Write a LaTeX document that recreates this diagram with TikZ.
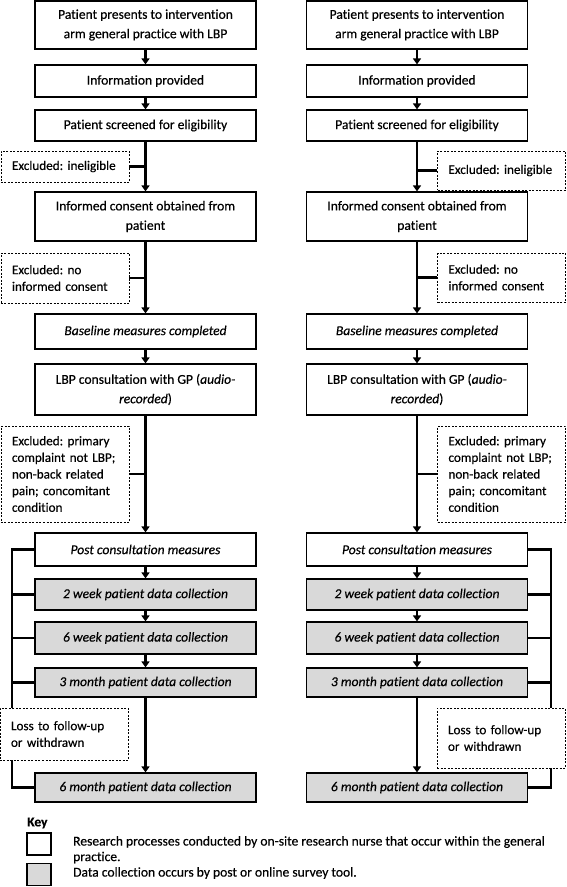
\documentclass[tikz,border=0pt]{standalone}
\usepackage{fontspec}
\setmainfont{Carlito}[Ligatures={NoCommon}, FakeBold=0.35]
\usetikzlibrary{arrows.meta}
\definecolor{keygrey}{HTML}{D9D9D9}
\newcommand{\exline}[1]{\mbox{#1}}
\begin{document}
\frenchspacing
\begin{tikzpicture}[x=1bp,y=-1bp,
  box/.style={draw, line width=1.2bp, fill=white, minimum width=221bp, align=center,
    font=\fontsize{13.6}{19.5}\selectfont, inner sep=0pt},
  greybox/.style={box, fill=keygrey},
  excbox/.style={draw, dash pattern=on 2bp off 1.5bp, line width=0.9bp, fill=white,
    text width=106bp, align=left, minimum width=128bp, inner xsep=11bp, inner ysep=0pt,
    font=\fontsize{13.2}{16.7}\selectfont},
  arr/.style={line width=2.4bp, -{Triangle[length=6bp,width=8bp]}},
  thickline/.style={line width=2.6bp},
  keysq/.style={draw, line width=1.2bp, minimum width=24bp, minimum height=22bp, inner sep=0pt},
  keytext/.style={anchor=west, inner sep=0pt, font=\fontsize{13.6}{15}\selectfont}
]
\useasboundingbox (0,0) rectangle (567,887);

% ---------------- Left column ----------------
\begin{scope}[name prefix=L-]
\node[box, minimum height=48bp] (b1) at (145.5,25) {Patient presents to intervention\\arm general practice with LBP};
\node[box, minimum height=32bp] (b2) at (145.5,81) {Information provided};
\node[box, minimum height=31bp] (b3) at (145.5,125.5) {Patient screened for eligibility};
\node[box, minimum height=49bp] (b4) at (145.5,216.5) {Informed consent obtained from\\patient};
\node[box, minimum height=35bp] (b5) at (145.5,331.5) {\itshape Baseline measures completed};
\node[box, minimum height=51bp] (b6) at (145.5,389.5) {LBP consultation with GP (\textit{audio-}\\\textit{recorded})};
\node[box, minimum height=33bp] (b7) at (145.5,549.5) {\itshape Post consultation measures};
\node[greybox, minimum height=31bp] (b8) at (145.5,594.5) {\itshape 2 week patient data collection};
\node[greybox, minimum height=32bp] (b9) at (145.5,638) {\itshape 6 week patient data collection};
\node[greybox, minimum height=29bp] (b10) at (145.5,682.5) {\itshape 3 month patient data collection};
\node[greybox, minimum height=29bp] (b11) at (145.5,787.5) {\itshape 6 month patient data collection};

\coordinate (rail) at (12,0);
\draw[thickline] (b7.west) -| (rail |- b11) -- (b11.west);
\draw[thickline] (b8.west) -- (rail |- b8);
\draw[thickline] (b9.west) -- (rail |- b9);
\draw[thickline] (b10.west) -- (rail |- b10);

\node[excbox, minimum height=31bp] (e1) at (65,166.5) {\exline{Excluded: ineligible}};
\node[excbox, minimum height=50bp] (e2) at (65,278) {\exline{Excluded: no}\\\exline{informed consent}};
\node[excbox, minimum height=96bp] (e3) at (65,474) {\exline{Excluded: primary}\\\exline{complaint not LBP;}\\\exline{non-back related}\\\exline{pain; concomitant}\\\exline{condition}};
\node[excbox, minimum height=52bp] (e4) at (64,734) {\exline{Loss to follow-up}\\\exline{or withdrawn}};

\foreach \a/\b in {b1/b2,b2/b3,b3/b4,b4/b5,b5/b6,b6/b7,b7/b8,b8/b9,b9/b10,b10/b11}
  \draw[arr] (\a.south) -- (\b.north);
\foreach \e/\b in {e1/b3,e2/b4,e3/b6}
  \draw[thickline] (\e.east) -- (\e.east -| \b.south);
\end{scope}

% ---------------- Right column ----------------
\begin{scope}[name prefix=R-]
\node[box, minimum height=48bp] (b1) at (417,25) {Patient presents to intervention\\arm general practice with LBP};
\node[box, minimum height=32bp] (b2) at (417,81) {Information provided};
\node[box, minimum height=31bp] (b3) at (417,125.5) {Patient screened for eligibility};
\node[box, minimum height=49bp] (b4) at (417,216.5) {Informed consent obtained from\\patient};
\node[box, minimum height=35bp] (b5) at (417,331.5) {\itshape Baseline measures completed};
\node[box, minimum height=51bp] (b6) at (417,389.5) {LBP consultation with GP (\textit{audio-}\\\textit{recorded})};
\node[box, minimum height=33bp] (b7) at (417,549.5) {\itshape Post consultation measures};
\node[greybox, minimum height=31bp] (b8) at (417,594.5) {\itshape 2 week patient data collection};
\node[greybox, minimum height=32bp] (b9) at (417,638) {\itshape 6 week patient data collection};
\node[greybox, minimum height=29bp] (b10) at (417,682.5) {\itshape 3 month patient data collection};
\node[greybox, minimum height=29bp] (b11) at (417,787.5) {\itshape 6 month patient data collection};

\coordinate (rail) at (551,0);
\draw[thickline] (b7.east) -| (rail |- b11) -- (b11.east);
\draw[thickline] (b8.east) -- (rail |- b8);
\draw[thickline] (b9.east) -- (rail |- b9);
\draw[thickline] (b10.east) -- (rail |- b10);

\node[excbox, minimum height=39bp] (e1) at (501.5,170.5) {\exline{Excluded: ineligible}};
\node[excbox, minimum height=49bp] (e2) at (501.5,277.5) {\exline{Excluded: no}\\\exline{informed consent}};
\node[excbox, minimum height=96bp] (e3) at (501.5,474) {\exline{Excluded: primary}\\\exline{complaint not LBP;}\\\exline{non-back related}\\\exline{pain; concomitant}\\\exline{condition}};
\node[excbox, minimum height=60bp] (e4) at (501,738) {\exline{Loss to follow-up}\\\exline{or withdrawn}};

\foreach \a/\b in {b1/b2,b2/b3,b3/b4,b4/b5,b5/b6,b6/b7,b7/b8,b8/b9,b9/b10,b10/b11}
  \draw[arr] (\a.south) -- (\b.north);
\foreach \e/\b in {e1/b3,e2/b4,e3/b6}
  \draw[thickline] (\e.west) -- (\e.west -| \b.south);
\end{scope}

% ---------------- Key ----------------
\node[anchor=west, inner sep=0pt, font=\fontsize{13.6}{15}\selectfont\bfseries] (keytitle) at (27,823) {Key};
\node[keysq, fill=white] (k1) at (39,844) {};
\node[keysq, fill=keygrey] (k2) at (39,874.5) {};
\node[keytext] (k1t) at (73,842) {Research processes conducted by on-site research nurse that occur within the general};
\node[keytext] (k1u) at (73,857.5) {practice.};
\node[keytext] (k2t) at (73,873) {Data collection occurs by post or online survey tool.};
\end{tikzpicture}
\end{document}
